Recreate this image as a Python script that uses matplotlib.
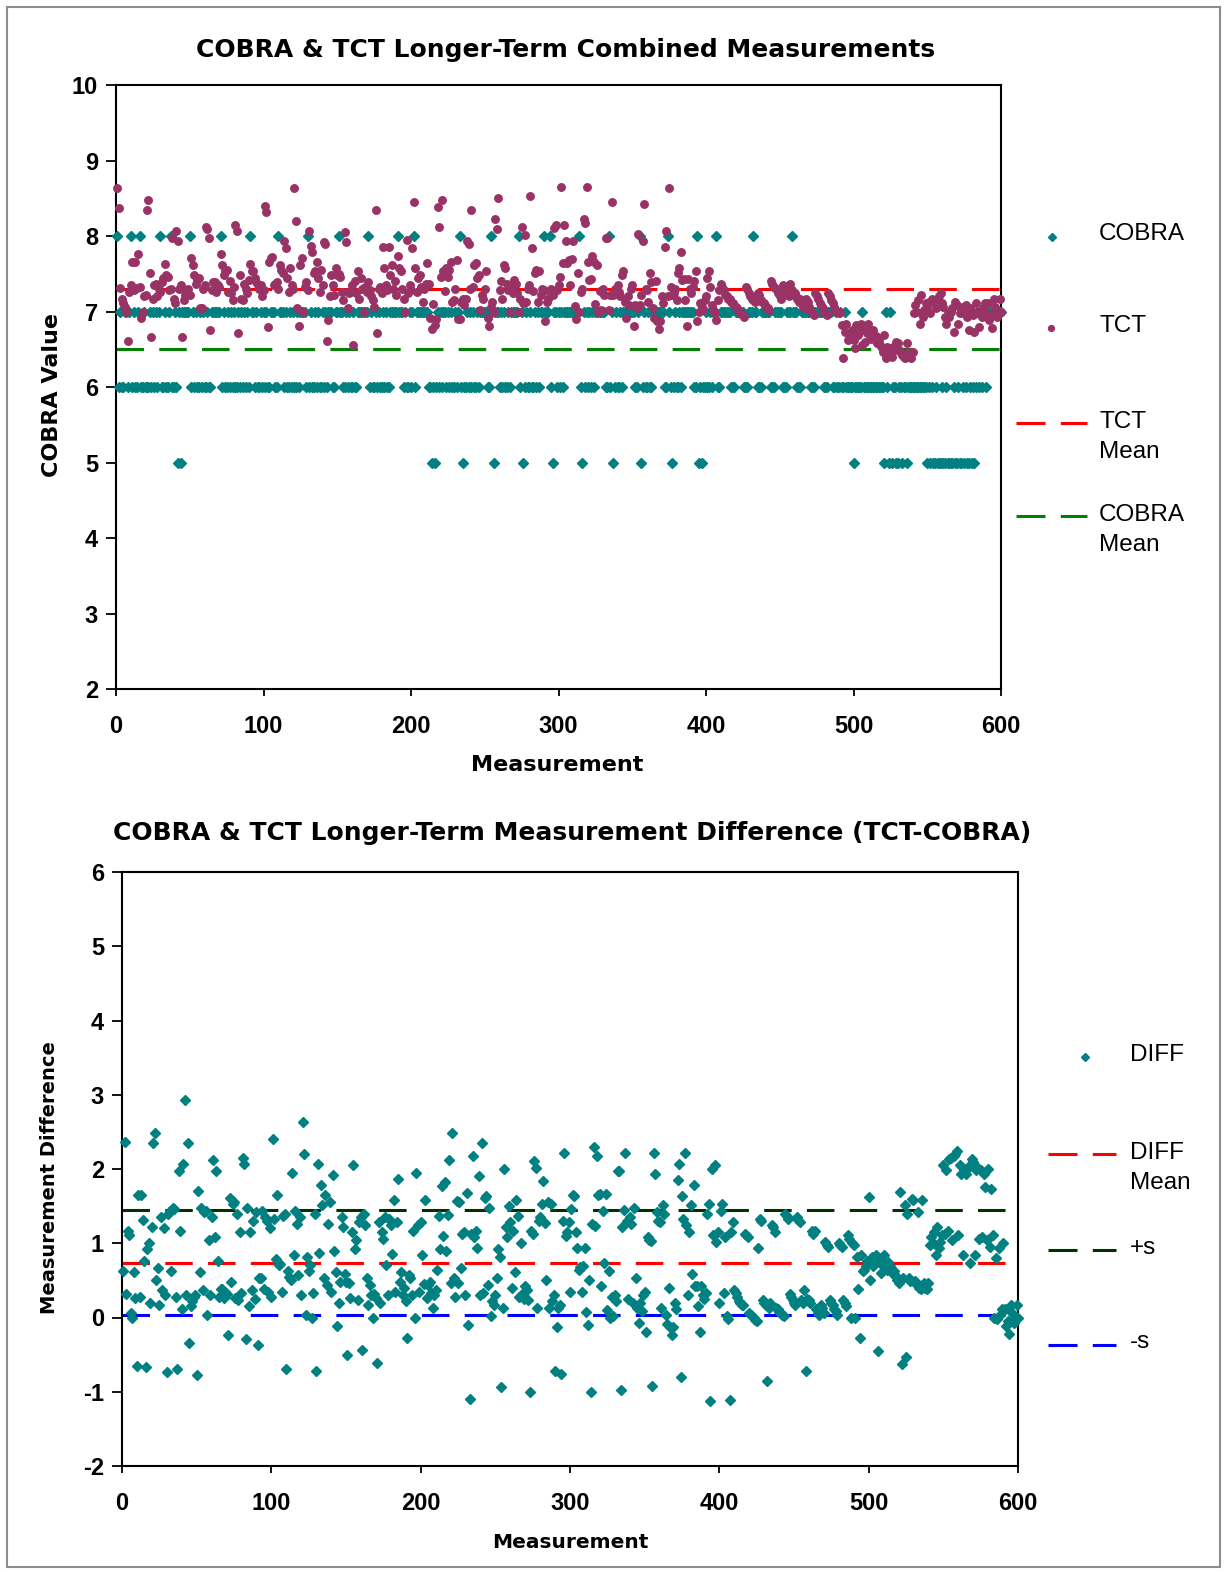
import numpy as np
import matplotlib
matplotlib.use("Agg")
import matplotlib.pyplot as plt
from matplotlib.lines import Line2D
from matplotlib.patches import Rectangle

plt.rcParams['font.family'] = ['Liberation Sans', 'DejaVu Sans']
plt.rcParams['axes.unicode_minus'] = False

# COBRA reading per measurement (1..600), one digit each, 10 per block
COBRA_BLOCKS = [
    "8676677678", "6766786676", "6676767678", "6676678667", "6575777778",
    "6767667676", "6766777777", "8676676767", "6676767676", "8776766767",
    "6766777668", "7776766767", "6676777768", "6766767667", "6767776677",
    "8776676766", "7667777777", "8676676766", "7676677777", "8777676676",
    "7867777777", "7665656767", "6776767667", "6786566767", "6766767777",
    "7668757776", "7676676777", "7786756766", "7667676778", "7778657767",
    "6767777777", "7778657676", "7676777777", "7668675676", "6767777777",
    "7667856766", "7667777777", "7668765676", "6767777777", "7668565667",
    "6676778667", "7777776667", "7777766677", "7877666777", "7776667777",
    "7666777877", "7666777777", "6667777776", "6677766766", "7667666665",
    "6666676666", "6666666666", "5765756655", "6656656666", "6666666665",
    "6565565556", "5565555655", "6556565565", "6567676776", "7777777777",
]

# TCT reading per measurement, same order
TCT_BLOCKS = [
    [8.63, 8.37, 7.31, 7.17, 7.11, 7.06, 6.99, 6.61, 7.26, 7.35],
    [7.65, 7.28, 7.65, 7.31, 7.76, 7.33, 6.92, 7.00, 7.20, 7.22],
    [8.35, 8.48, 7.51, 6.66, 7.17, 7.35, 7.37, 7.20, 7.30, 7.26],
    [7.39, 7.44, 7.63, 7.48, 7.46, 7.28, 7.30, 7.97, 7.17, 7.11],
    [8.07, 7.93, 7.30, 7.35, 6.66, 7.15, 7.22, 7.28, 7.30, 7.22],
    [7.71, 7.61, 7.48, 7.37, 7.42, 7.44, 7.04, 7.04, 7.30, 7.35],
    [8.12, 8.09, 7.97, 6.76, 7.28, 7.39, 7.39, 7.26, 7.35, 7.32],
    [7.76, 7.61, 7.48, 7.53, 7.55, 7.26, 7.40, 7.24, 7.15, 7.33],
    [8.15, 8.07, 6.71, 7.48, 7.16, 7.15, 7.37, 7.30, 7.25, 7.42],
    [7.63, 7.53, 7.53, 7.44, 7.39, 7.35, 7.30, 7.35, 7.20, 7.28],
    [8.40, 8.32, 6.79, 7.65, 7.71, 7.72, 7.35, 7.37, 7.39, 7.30],
    [7.62, 7.55, 7.51, 7.94, 7.84, 7.44, 7.26, 7.57, 7.35, 7.30],
    [8.63, 8.20, 7.04, 6.81, 7.62, 7.71, 7.00, 7.33, 7.39, 7.28],
    [8.07, 7.87, 7.79, 7.51, 7.53, 7.65, 7.44, 7.26, 7.55, 7.35],
    [7.92, 7.89, 6.61, 6.89, 7.20, 7.48, 7.35, 7.22, 7.58, 7.48],
    [7.50, 7.46, 7.26, 7.15, 8.05, 7.92, 7.04, 7.24, 7.28, 7.35],
    [6.56, 7.40, 7.24, 7.53, 7.17, 7.44, 7.30, 7.00, 7.32, 7.26],
    [7.39, 7.28, 7.20, 7.15, 7.06, 8.35, 6.71, 7.30, 7.33, 7.24],
    [7.86, 7.58, 7.35, 7.28, 7.86, 7.48, 7.61, 7.30, 7.40, 7.22],
    [7.73, 7.57, 7.53, 7.30, 7.17, 7.00, 7.95, 7.24, 7.35, 7.28],
    [7.84, 8.45, 7.58, 7.26, 7.44, 7.48, 7.33, 7.13, 7.30, 7.37],
    [7.64, 7.37, 6.92, 6.77, 7.10, 6.82, 6.90, 8.38, 8.12, 7.46],
    [8.48, 7.53, 7.27, 7.57, 7.46, 7.55, 7.66, 7.13, 7.15, 7.30],
    [7.68, 6.90, 6.90, 7.13, 7.17, 7.08, 7.16, 7.94, 7.90, 7.30],
    [8.35, 7.33, 7.61, 7.64, 7.44, 7.48, 7.02, 7.22, 7.17, 7.30],
    [7.53, 6.92, 6.81, 7.06, 7.13, 7.00, 8.22, 8.09, 8.50, 7.28],
    [7.40, 7.17, 7.61, 7.58, 7.37, 7.28, 7.00, 7.32, 7.25, 7.42],
    [7.37, 7.24, 7.00, 7.17, 8.12, 7.11, 8.01, 7.13, 7.30, 7.35],
    [8.53, 7.84, 7.27, 7.51, 7.55, 7.13, 7.53, 7.22, 7.30, 7.28],
    [6.87, 7.13, 7.17, 7.24, 7.30, 7.22, 8.10, 8.15, 7.28, 7.35],
    [7.46, 8.65, 7.64, 8.15, 7.93, 7.64, 7.68, 7.35, 7.70, 7.94],
    [7.07, 6.90, 7.51, 7.00, 7.26, 7.30, 8.23, 8.17, 8.65, 7.66],
    [7.42, 7.43, 7.73, 7.66, 7.10, 7.62, 7.00, 7.27, 7.02, 7.30],
    [7.22, 7.97, 7.97, 7.02, 7.22, 8.45, 7.22, 7.30, 7.25, 7.35],
    [7.26, 7.20, 7.48, 7.53, 7.13, 6.92, 7.20, 7.09, 7.30, 7.35],
    [6.81, 7.09, 7.04, 8.03, 7.08, 7.22, 7.93, 8.42, 7.30, 7.28],
    [7.13, 7.51, 7.39, 7.04, 6.91, 7.40, 6.87, 6.77, 6.87, 7.20],
    [7.11, 7.85, 8.07, 7.20, 8.63, 7.33, 7.22, 7.24, 7.30, 7.15],
    [7.51, 7.58, 7.79, 7.42, 7.43, 7.15, 6.81, 7.43, 7.30, 7.25],
    [7.33, 7.40, 7.53, 6.87, 7.00, 7.11, 7.06, 7.02, 7.15, 7.20],
    [7.44, 7.53, 7.33, 7.09, 7.02, 6.98, 6.89, 7.15, 7.28, 7.37],
    [7.33, 7.28, 7.22, 7.20, 7.17, 7.17, 7.13, 7.11, 7.09, 7.06],
    [7.04, 7.02, 7.00, 6.97, 6.95, 6.93, 7.33, 7.30, 7.24, 7.20],
    [7.17, 7.15, 7.13, 7.20, 7.24, 7.22, 7.15, 7.13, 7.11, 7.08],
    [7.06, 7.04, 7.02, 7.40, 7.37, 7.33, 7.31, 7.28, 7.24, 7.20],
    [7.17, 7.35, 7.31, 7.28, 7.24, 7.20, 7.37, 7.28, 7.25, 7.24],
    [7.20, 7.17, 7.13, 7.17, 7.11, 7.06, 7.04, 7.17, 7.13, 7.06],
    [7.02, 6.98, 6.95, 7.24, 7.20, 7.17, 7.11, 7.09, 7.04, 7.00],
    [6.98, 6.95, 7.24, 7.20, 7.15, 7.11, 7.06, 7.00, 7.00, 6.98],
    [7.00, 6.82, 6.38, 6.73, 6.84, 6.62, 6.64, 6.70, 6.76, 6.62],
    [6.51, 6.82, 6.69, 6.73, 6.84, 6.55, 6.80, 6.60, 6.71, 6.84],
    [6.73, 6.64, 6.75, 6.69, 6.67, 6.58, 6.62, 6.56, 6.51, 6.47],
    [6.69, 6.38, 6.53, 6.51, 6.47, 6.40, 6.53, 6.49, 6.60, 6.58],
    [6.49, 6.45, 6.42, 6.40, 6.38, 6.58, 6.47, 6.40, 6.38, 6.47],
    [6.98, 7.09, 7.00, 7.15, 6.84, 7.22, 6.93, 7.02, 7.11, 7.06],
    [7.13, 6.98, 7.17, 7.13, 7.15, 7.04, 7.17, 7.20, 7.24, 7.11],
    [7.06, 6.93, 6.84, 6.98, 6.93, 7.00, 7.04, 6.73, 7.13, 7.09],
    [6.84, 6.98, 7.02, 7.06, 6.98, 7.09, 6.93, 6.76, 7.04, 7.00],
    [6.95, 6.73, 7.11, 7.00, 6.80, 6.98, 6.93, 7.04, 7.11, 7.00],
    [7.11, 6.89, 6.95, 6.78, 7.17, 7.06, 6.93, 7.00, 7.17, 7.00],
]

TCT_MEAN = 7.30
COBRA_MEAN = 6.50
DIFF_MEAN = 0.74
DIFF_PLUS_S = 1.45
DIFF_MINUS_S = 0.03

cobra = np.array([int(c) for c in "".join(COBRA_BLOCKS)])
tct = np.array(TCT_BLOCKS).ravel()
meas = np.arange(1, len(cobra) + 1)
diff = tct - cobra

TEAL = '#008080'
PLUM = '#993366'
WIDE = ['DejaVu Sans']   # wider bold face, closer to the spaced-out titles

W, H = 1226, 1572
fig = plt.figure(figsize=(W / 100, H / 100), dpi=100)
fig.patch.set_facecolor('white')


def fx(x):
    return x / W


def fy(y):
    return 1 - y / H


# grey frame round the whole picture
fig.add_artist(Rectangle((fx(7), fy(1567)), fx(1220 - 7), (1567 - 7) / H,
                         transform=fig.transFigure, fill=False,
                         edgecolor='#8c8c8c', linewidth=1.5))


def style_axes(ax, ylo, yhi):
    ax.set_xlim(0, 600)
    ax.set_ylim(ylo, yhi)
    ax.set_xticks(range(0, 601, 100))
    ax.set_yticks(range(ylo, yhi + 1))
    for sp in ax.spines.values():
        sp.set_linewidth(1.5)
        sp.set_color('black')
    ax.tick_params(axis='y', direction='out', length=7, width=1.3,
                   labelsize=17, pad=6)
    ax.tick_params(axis='x', direction='out', length=5, width=1.3,
                   labelsize=17, pad=14)
    for lab in ax.get_xticklabels() + ax.get_yticklabels():
        lab.set_fontweight('bold')


# ---- top chart: combined measurements ----
ax1 = fig.add_axes([fx(116), fy(689), fx(1001 - 116), (689 - 85) / H])
ax1.plot([0, 600], [TCT_MEAN, TCT_MEAN], color='red', lw=2.2,
         dashes=(9, 5), zorder=2)
ax1.plot([0, 600], [COBRA_MEAN, COBRA_MEAN], color='green', lw=2.2,
         dashes=(9, 5), zorder=2)
ax1.plot(meas, cobra, ls='none', marker='D', ms=4.8, color=TEAL,
         mec=TEAL, zorder=3, clip_on=False)
ax1.plot(meas, tct, ls='none', marker='o', ms=5.4, color=PLUM,
         mec=PLUM, zorder=4, clip_on=False)
style_axes(ax1, 2, 10)

fig.text(fx(566), fy(50), "COBRA & TCT Longer-Term Combined Measurements",
         ha='center', va='center', fontsize=18, fontweight='bold',
         family=WIDE)
fig.text(fx(557), fy(765), "Measurement", ha='center', va='center',
         fontsize=16, fontweight='bold', family=WIDE)
fig.text(fx(52), fy(395), "COBRA Value", ha='center', va='center',
         rotation=90, fontsize=16, fontweight='bold', family=WIDE)

# ---- bottom chart: difference ----
ax2 = fig.add_axes([fx(122), fy(1466), fx(1018 - 122), (1466 - 872) / H])
ax2.plot([0, 600], [DIFF_MEAN, DIFF_MEAN], color='red', lw=2.2,
         dashes=(9, 5), zorder=2)
ax2.plot([0, 600], [DIFF_PLUS_S, DIFF_PLUS_S], color='#003300', lw=2.2,
         dashes=(9, 5), zorder=2)
ax2.plot([0, 600], [DIFF_MINUS_S, DIFF_MINUS_S], color='blue', lw=2.2,
         dashes=(9, 5), zorder=2)
ax2.plot(meas, diff, ls='none', marker='D', ms=5.2, color=TEAL,
         mec=TEAL, zorder=3, clip_on=False)
style_axes(ax2, -2, 6)

fig.text(fx(572), fy(833),
         "COBRA & TCT Longer-Term Measurement Difference (TCT-COBRA)",
         ha='center', va='center', fontsize=18, fontweight='bold',
         family=WIDE)
fig.text(fx(570), fy(1542), "Measurement", ha='center', va='center',
         fontsize=14.5, fontweight='bold', family=WIDE)
fig.text(fx(50), fy(1178), "Measurement Difference", ha='center',
         va='center', rotation=90, fontsize=14, fontweight='bold',
         family=WIDE)


# ---- legends, placed by hand like the original ----
def leg_marker(x, y, marker, color, ms):
    fig.add_artist(Line2D([fx(x)], [fy(y)], marker=marker, ms=ms,
                          color=color, mec=color, ls='none',
                          transform=fig.transFigure))


def leg_dash(x0, x1, y, color):
    fig.add_artist(Line2D([fx(x0), fx(x1)], [fy(y), fy(y)], color=color,
                          lw=2.2, dashes=(9.5, 5),
                          transform=fig.transFigure))


def leg_text(x, y, s):
    fig.text(fx(x), fy(y), s, ha='left', va='center', fontsize=17.5,
             linespacing=1.48)


leg_marker(1052, 237, 'D', TEAL, 3.8)
leg_text(1099, 234, "COBRA")
leg_marker(1051, 328, 'o', PLUM, 4.2)
leg_text(1099, 326, "TCT")
leg_dash(1016, 1087, 423, 'red')
leg_text(1099, 437, "TCT\nMean")
leg_dash(1016, 1087, 516, 'green')
leg_text(1099, 530, "COBRA\nMean")

leg_marker(1085, 1057, 'D', TEAL, 3.8)
leg_text(1130, 1055, "DIFF")
leg_dash(1048, 1116, 1154, 'red')
leg_text(1130, 1168, "DIFF\nMean")
leg_dash(1048, 1116, 1250, '#003300')
leg_text(1130, 1248, "+s")
leg_dash(1048, 1116, 1345, 'blue')
leg_text(1130, 1342, "-s")

fig.savefig("out.png", dpi=100)
